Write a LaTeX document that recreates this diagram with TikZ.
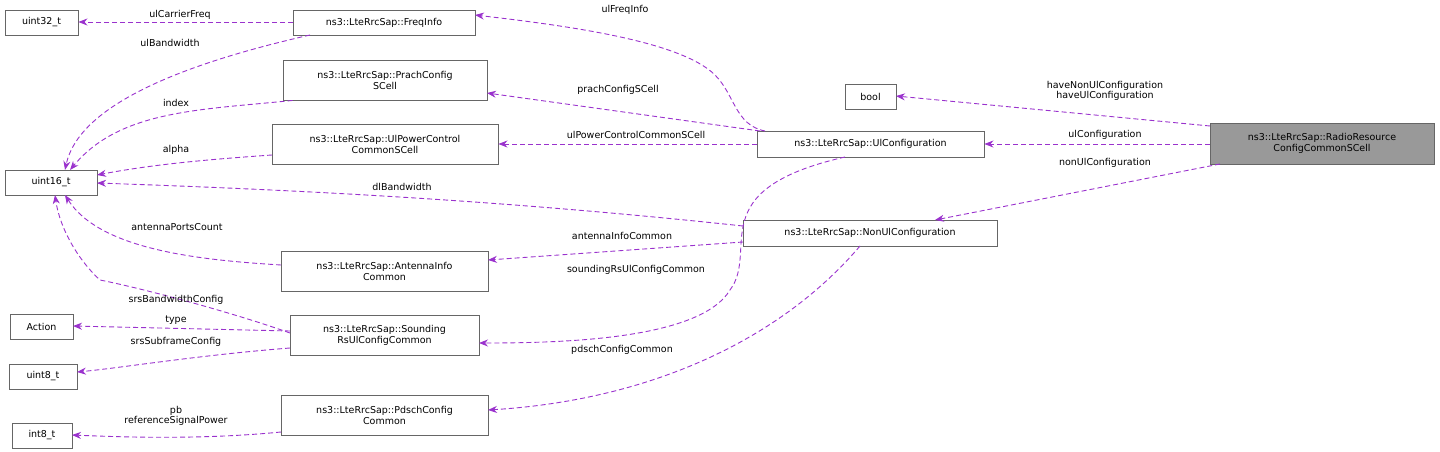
\documentclass[tikz,border=0pt]{standalone}
\usepackage{fontspec}
\setmainfont{DejaVu Sans}
\usetikzlibrary{arrows.meta}
\definecolor{edge}{HTML}{9A32CD}
\definecolor{rootfill}{HTML}{999999}
\definecolor{boxline}{HTML}{666666}
\begin{document}
\begin{tikzpicture}[x=1pt,y=-1pt,
  box/.style={draw=boxline,line width=0.9pt,fill=white,inner sep=0pt,align=center,font=\fontsize{9.5}{11}\selectfont},
  lbl/.style={font=\fontsize{9.5}{10.5}\selectfont,align=center,inner sep=0pt},
  rel/.style={draw=edge,line width=0.9pt,dash pattern=on 5pt off 3pt,-{Stealth[length=9pt,width=7pt]}}]
\useasboundingbox (0,0) rectangle (1440,452);
\newcommand{\bx}[6]{\node[box,minimum width=#4-#2,minimum height=#5-#3] (#1) at ({(#2+#4)/2},{(#3+#5)/2}) {#6};}
\bx{u32}{5}{10}{78}{35}{uint32\_t}
\bx{freq}{293}{10}{475}{35}{ns3::LteRrcSap::FreqInfo}
\bx{prach}{283}{60}{487}{100}{ns3::LteRrcSap::PrachConfig\\SCell}
\bx{ulpc}{272}{124}{498}{164}{ns3::LteRrcSap::UlPowerControl\\CommonSCell}
\bx{u16}{5}{170}{97}{195}{uint16\_t}
\bx{ant}{281}{251}{488}{291}{ns3::LteRrcSap::AntennaInfo\\Common}
\bx{act}{10}{314}{73}{339}{Action}
\bx{snd}{290}{315}{479}{355}{ns3::LteRrcSap::Sounding\\RsUlConfigCommon}
\bx{u8}{9}{364}{77}{389}{uint8\_t}
\bx{pdsch}{281}{395}{488}{435}{ns3::LteRrcSap::PdschConfig\\Common}
\bx{i8}{12}{423}{72}{448}{int8\_t}
\bx{bool}{845}{84}{896}{109}{bool}
\bx{ulc}{757}{131}{984}{157}{ns3::LteRrcSap::UlConfiguration}
\bx{nonul}{743}{220}{997}{246}{ns3::LteRrcSap::NonUlConfiguration}
\node[box,fill=rootfill,draw=boxline,minimum width=224,minimum height=41] (root) at (1322,143.5) {ns3::LteRrcSap::RadioResource\\ConfigCommonSCell};

\coordinate (a) at (293,22); \draw[rel] (a) -- (u32.east|-a);
\draw[rel] (310,35) .. controls (200,60) and (80,100) .. (65,170);
\draw[rel] (prach.south west) ++(10,0) .. controls (200,110) and (120,110) .. (70,170);
\draw[rel] (272,155) .. controls (200,160) and (150,165) .. (97,175);
\draw[rel] (743,226) .. controls (500,200) and (300,190) .. (97,183);
\draw[rel] (281,265) .. controls (200,260) and (100,250) .. (65,195);
\draw[rel] (290,333) .. controls (240,315) and (150,290) .. (100,280) .. controls (80,262) and (60,230) .. (55,195);
\draw[rel] (290,331) -- (73,326);
\draw[rel] (290,348) .. controls (200,355) and (120,368) .. (77,372);
\draw[rel] (281,432) .. controls (200,440) and (120,437) .. (72,435);
\draw[rel] (765,131) .. controls (735,125) and (735,95) .. (715,75) .. controls (680,40) and (560,25) .. (475,15);
\draw[rel] (760,131) -- (487,93);
\draw[rel] (ulc.west|-ulpc) -- (ulpc.east);
\draw[rel] (845,157) .. controls (700,190) and (760,250) .. (730,290) .. controls (700,340) and (560,343) .. (479,343);
\draw[rel] (743,242) -- (488,260);
\draw[rel] (860,246) .. controls (780,340) and (650,400) .. (488,410);
\draw[rel] (1210,126) -- (896,96);
\draw[rel] (root.west|-ulc) -- (ulc.east);
\draw[rel] (1220,164) -- (935,220);

\node[lbl] at (180,15) {ulCarrierFreq};
\node[lbl] at (170,43) {ulBandwidth};
\node[lbl] at (176,103) {index};
\node[lbl] at (176,150) {alpha};
\node[lbl] at (402,187) {dlBandwidth};
\node[lbl] at (177,227) {antennaPortsCount};
\node[lbl] at (176,300) {srsBandwidthConfig};
\node[lbl] at (176,320) {type};
\node[lbl] at (176,342) {srsSubframeConfig};
\node[lbl] at (176,416) {pb\\referenceSignalPower};
\node[lbl] at (625,10) {ulFreqInfo};
\node[lbl] at (618,90) {prachConfigSCell};
\node[lbl] at (636,135) {ulPowerControlCommonSCell};
\node[lbl] at (636,270) {soundingRsUlConfigCommon};
\node[lbl] at (622,236) {antennaInfoCommon};
\node[lbl] at (622,350) {pdschConfigCommon};
\node[lbl] at (1105,91) {haveNonUlConfiguration\\haveUlConfiguration};
\node[lbl] at (1105,135) {ulConfiguration};
\node[lbl] at (1105,163) {nonUlConfiguration};
\end{tikzpicture}
\end{document}
